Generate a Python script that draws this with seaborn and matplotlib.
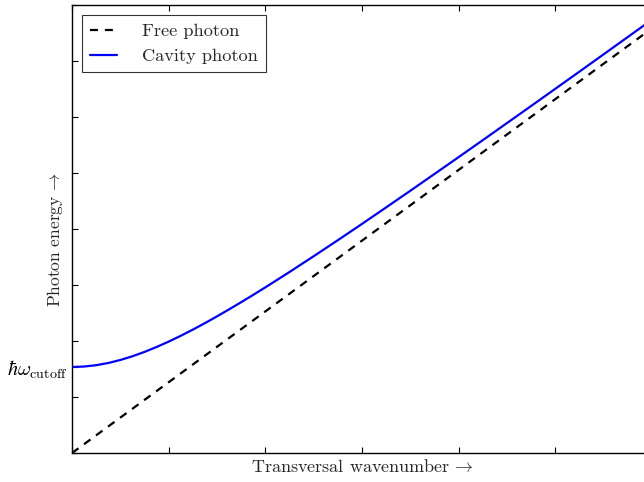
import matplotlib
matplotlib.use("Agg")
import matplotlib.pyplot as plt
import seaborn as sns
import pandas as pd

# Data (axis units: 1 unit = one major tick interval)
wavenumber = [0.0, 0.125, 0.25, 0.375, 0.5, 0.625, 0.75, 0.875, 1.0, 1.125, 1.25, 1.375,
              1.5, 1.625, 1.75, 1.875, 2.0, 2.25, 2.5, 2.75, 3.0, 3.25, 3.5, 3.75, 4.0,
              4.25, 4.5, 4.75, 5.0, 5.25, 5.5, 5.75, 6.0]
cavity_energy = [1.536, 1.544, 1.568, 1.607, 1.661, 1.727, 1.805, 1.893, 1.989, 2.093,
                 2.203, 2.319, 2.440, 2.565, 2.693, 2.824, 2.958, 3.232, 3.514, 3.800,
                 4.091, 4.386, 4.683, 4.983, 5.284, 5.587, 5.892, 6.197, 6.504, 6.811,
                 7.120, 7.429, 7.738]
free_wavenumber = [0.0, 6.0]
free_energy = [0.0, 7.584]
cutoff_energy = 1.536
series_names = ["Free photon", "Cavity photon"]
xlabel = r"Transversal wavenumber$\,\rightarrow$"
ylabel = r"Photon energy$\,\rightarrow$"
cutoff_label = r"$\hbar\omega_\mathrm{cutoff}$"

sns.set_theme(style="white")
plt.rcParams.update({
    "font.family": ["cmr10", "DejaVu Serif"],
    "mathtext.fontset": "cm",
    "axes.formatter.use_mathtext": True,
    "xtick.direction": "in",
    "ytick.direction": "in",
    "xtick.top": True,
    "xtick.bottom": True,
    "ytick.left": True,
    "ytick.right": True,
    "xtick.major.size": 4,
    "ytick.major.size": 4,
    "axes.edgecolor": "black",
    "axes.linewidth": 1.0,
})

DPI = 100
fig = plt.figure(figsize=(644 / DPI, 482 / DPI), dpi=DPI)
ax = fig.add_axes([72 / 644, 29 / 482, 580 / 644, 448 / 482])

free_df = pd.DataFrame({"k": free_wavenumber, "E": free_energy})
cav_df = pd.DataFrame({"k": wavenumber, "E": cavity_energy})
sns.lineplot(data=free_df, x="k", y="E", ax=ax, color="black",
             linestyle=(0, (3.6, 3.1)), linewidth=1.6, label=series_names[0])
sns.lineplot(data=cav_df, x="k", y="E", ax=ax, color="blue", linewidth=1.6,
             label=series_names[1])

ax.set_xlim(0, 6)
ax.set_ylim(0, 8)
ax.set_xticks([0, 1, 2, 3, 4, 5, 6])
ax.set_xticklabels([""] * 7)
yt = [0, 1, cutoff_energy, 2, 3, 4, 5, 6, 7, 8]
ax.set_yticks(yt)
ax.set_yticklabels(["" if v != cutoff_energy else cutoff_label for v in yt], fontsize=14.5)
ax.tick_params(axis="both", which="both", colors="black", width=0.8, length=4.5, pad=3,
               bottom=True, left=True, top=True, right=True)
ax.set_xlabel(xlabel, fontsize=13)
ax.xaxis.set_label_coords(0.5, -0.012)
ax.xaxis.label.set_va("top")
ax.set_ylabel(ylabel, fontsize=12.5)
ax.yaxis.set_label_coords(-0.012, 0.475)

leg = ax.legend(loc="upper left", fontsize=13.2, frameon=True, fancybox=False,
                edgecolor="black", handlelength=1.45, handletextpad=1.35,
                labelspacing=0.5, borderpad=0.45, bbox_to_anchor=(0.0, 1.0),
                borderaxespad=0.55)
leg.get_frame().set_linewidth(0.8)

fig.savefig("out.png", dpi=DPI)
